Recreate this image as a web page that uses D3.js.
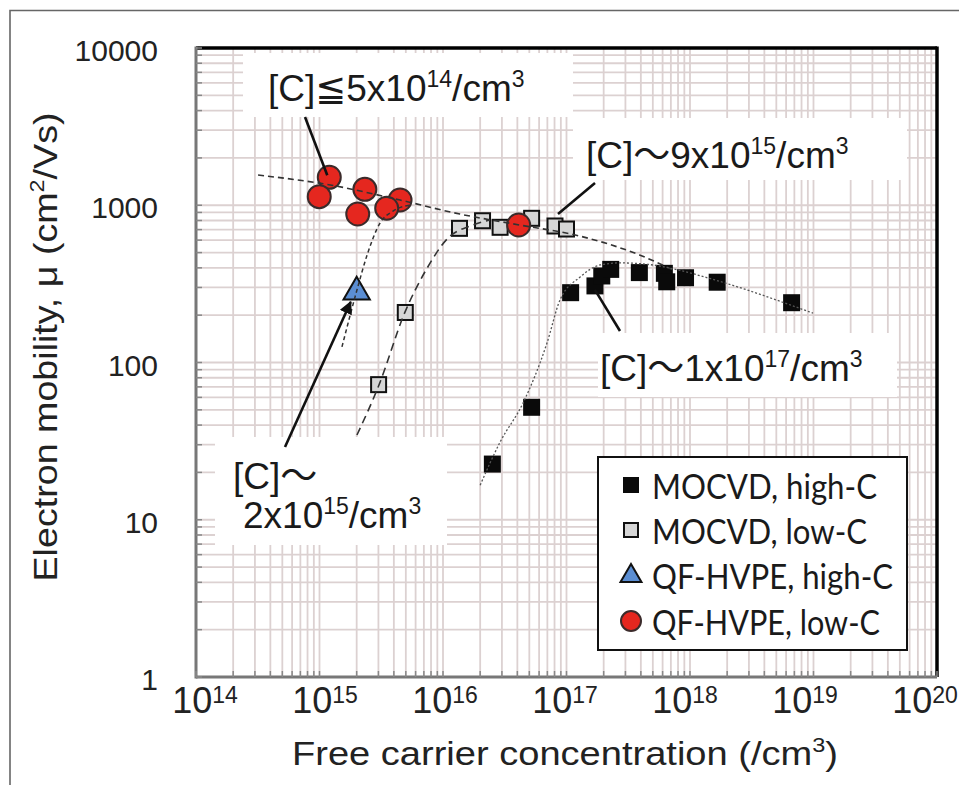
<!DOCTYPE html>
<html><head><meta charset="utf-8">
<script src="https://cdn.jsdelivr.net/npm/d3@7"></script>
<style>body{margin:0;background:#fff}</style>
</head><body>
<svg id="c" width="959" height="785"></svg>
<script>
// ---------- data ----------
const mocvdHighC_n  = [2.51e16, 5.22e16, 1.08e17, 1.70e17, 1.93e17, 2.28e17, 3.89e17, 6.2e17, 6.48e17, 9.2e17, 1.66e18, 6.65e18];
const mocvdHighC_mu = [22.6, 51.9, 278, 307, 355, 391, 373, 369, 326, 346, 324, 240];
const mocvdLowC_n   = [3.01e15, 4.95e15, 1.36e16, 2.09e16, 2.90e16, 5.22e16, 8.07e16, 1.0e17];
const mocvdLowC_mu  = [72.3, 208, 713, 797, 724, 826, 738, 706];
const qfHighC_n     = [2.0e15];
const qfHighC_mu    = [281];
const qfLowC_n      = [1.2e15, 9.95e14, 2.33e15, 2.04e15, 4.49e15, 3.5e15, 4.1e16];
const qfLowC_mu     = [1506, 1134, 1263, 880, 1080, 957, 749];

// fitted guide curves
const fitTop_n   = [3.18e14, 1.22e15, 4.49e15, 1.37e16, 4.2e16, 1.28e17, 3.9e17, 7.3e17];
const fitTop_mu  = [1556, 1346, 1079, 879, 748, 637, 483, 388];
const fitLowC_n  = [2.01e15, 3.03e15, 4.92e15, 7.28e15, 1.12e16, 1.66e16, 2.4e16];
const fitLowC_mu = [34.6, 71.9, 209, 387, 628, 738, 805];
const fitHighC_n = [2.0e16, 2.9e16, 4.45e16, 6.95e16, 8.86e16, 1.29e17, 1.87e17, 2.71e17, 5.0e17, 8.3e17, 1.53e18, 9.9e18];
const fitHighC_mu= [16.6, 31.2, 55.3, 133, 250, 350, 417, 430, 417, 385, 338, 206];
const fitQF_n    = [1.52e15, 2.01e15, 2.43e15, 3.09e15, 3.94e15, 5.4e15];
const fitQF_mu   = [125.6, 289, 483, 771, 919, 1003];

const xDecades = [14, 15, 16, 17, 18, 19, 20];
const yTicks = [1, 10, 100, 1000, 10000];
const legendLabels = ["MOCVD, high-C", "MOCVD, low-C", "QF-HVPE, high-C", "QF-HVPE, low-C"];

// ---------- layout ----------
const L = 196, T = 48, R = 937, B = 677;
const svg = d3.select('#c');
const x = d3.scaleLog().domain([1e14, 1e20]).range([L, R]);
const y = d3.scaleLog().domain([1, 1e4]).range([B, T]);
const xLab = d3.scaleLinear().domain([14, 20]).range([205, 925]);
const FONT = "'Liberation Sans', Arial, 'DejaVu Sans', 'Noto Sans CJK JP', sans-serif";

// outer frame
svg.append('path').attr('d', 'M10,785V10.5H959').attr('fill', 'none')
  .attr('stroke', '#666').attr('stroke-width', 1.6);

// grid
const gridC = '#dcd1d1';
const gx = x.ticks(), gy = y.ticks();
svg.append('g').selectAll('line').data(gx).join('line')
  .attr('x1', d => x(d)).attr('x2', d => x(d)).attr('y1', T).attr('y2', B)
  .attr('stroke', gridC).attr('stroke-width', 1.8);
svg.append('g').selectAll('line').data(gy).join('line')
  .attr('y1', d => y(d)).attr('y2', d => y(d)).attr('x1', L).attr('x2', R)
  .attr('stroke', gridC).attr('stroke-width', 1.8);

// white annotation backgrounds
const boxes = [[243, 53, 573, 117], [573, 118, 907, 180], [598, 333, 897, 397], [215, 437, 447, 545]];
svg.append('g').selectAll('rect').data(boxes).join('rect')
  .attr('x', d => d[0]).attr('y', d => d[1]).attr('width', d => d[2] - d[0]).attr('height', d => d[3] - d[1])
  .attr('fill', '#fff');

// markers
const zip = (a, b) => a.map((v, i) => [v, b[i]]);
const sq = 17;
svg.append('g').selectAll('rect').data(zip(mocvdHighC_n, mocvdHighC_mu)).join('rect')
  .attr('x', d => x(d[0]) - sq / 2).attr('y', d => y(d[1]) - sq / 2).attr('width', sq).attr('height', sq)
  .attr('fill', '#0a0a0a');
svg.append('g').selectAll('rect').data(zip(mocvdLowC_n, mocvdLowC_mu)).join('rect')
  .attr('x', d => x(d[0]) - sq / 2 + 1).attr('y', d => y(d[1]) - sq / 2 + 1).attr('width', sq - 2).attr('height', sq - 2)
  .attr('fill', '#d6d6d6').attr('stroke', '#111').attr('stroke-width', 2);
svg.append('g').selectAll('path').data(zip(qfHighC_n, qfHighC_mu)).join('path')
  .attr('d', d3.symbol(d3.symbolTriangle, 300))
  .attr('transform', d => `translate(${x(d[0])},${y(d[1])})`)
  .attr('fill', '#5b8ed3').attr('stroke', '#111').attr('stroke-width', 2);
svg.append('g').selectAll('circle').data(zip(qfLowC_n, qfLowC_mu)).join('circle')
  .attr('cx', d => x(d[0])).attr('cy', d => y(d[1])).attr('r', 11.5)
  .attr('fill', '#e5271f').attr('stroke', '#3b2b2b').attr('stroke-width', 2);

// fit curves
const line = d3.line().x(d => x(d[0])).y(d => y(d[1])).curve(d3.curveMonotoneX);
function fit(n, mu, dash, w, col) {
  svg.append('path').attr('d', line(zip(n, mu))).attr('fill', 'none')
    .attr('stroke', col).attr('stroke-width', w).attr('stroke-dasharray', dash);
}
fit(fitTop_n, fitTop_mu, '6,4', 1.6, '#333');
fit(fitLowC_n, fitLowC_mu, '8,5', 1.6, '#333');
fit(fitHighC_n, fitHighC_mu, '2,2', 1.3, '#555');
fit(fitQF_n, fitQF_mu, '4,3', 1.5, '#333');

// leader lines
const lead = svg.append('g').attr('stroke', '#111').attr('stroke-width', 2.6);
lead.append('line').attr('x1', 305).attr('y1', 117).attr('x2', x(qfLowC_n[0]) - 2).attr('y2', y(qfLowC_mu[0]) - 2);
lead.append('line').attr('x1', 595).attr('y1', 183).attr('x2', x(mocvdLowC_n[6]) + 3).attr('y2', y(mocvdLowC_mu[6]) - 12);
lead.append('line').attr('x1', 620).attr('y1', 331).attr('x2', x(mocvdHighC_n[3])).attr('y2', y(mocvdHighC_mu[3]) + 4);
svg.append('defs').append('marker').attr('id', 'ah').attr('viewBox', '0 0 10 10')
  .attr('refX', 9).attr('refY', 5).attr('markerWidth', 5).attr('markerHeight', 5).attr('orient', 'auto')
  .append('path').attr('d', 'M0,0L10,5L0,10z').attr('fill', '#111');
lead.append('line').attr('x1', 285).attr('y1', 447).attr('x2', x(qfHighC_n[0]) - 6).attr('y2', y(qfHighC_mu[0]) + 10)
  .attr('marker-end', 'url(#ah)');

// annotation texts
function ann(px, py, parts) {
  const t = svg.append('text').attr('x', px).attr('y', py).attr('font-family', FONT)
    .attr('font-size', 37).attr('fill', '#1a1a1a');
  let raised = false;
  parts.forEach(p => {
    if (typeof p === 'object') {
      t.append('tspan').attr('font-size', 23).attr('dy', -14).text(p.s);
      raised = true;
    } else {
      t.append('tspan').attr('dy', raised ? 14 : 0).text(p);
      raised = false;
    }
  });
}
ann(268, 101, ['[C]\u22665x10', {s: '14'}, '/cm', {s: '3'}]);
ann(586, 168, ['[C]\uFF5E9x10', {s: '15'}, '/cm', {s: '3'}]);
ann(600, 381, ['[C]\uFF5E1x10', {s: '17'}, '/cm', {s: '3'}]);
ann(233, 489, ['[C]\uFF5E']);
ann(243, 528, ['2x10', {s: '15'}, '/cm', {s: '3'}]);

// legend
svg.append('rect').attr('x', 598).attr('y', 457).attr('width', 309).attr('height', 193)
  .attr('fill', '#fff').attr('stroke', '#111').attr('stroke-width', 2);
const legY = [485, 530, 575, 621];
const legW = [225, 215, 241, 228];
svg.append('rect').attr('x', 623).attr('y', legY[0] - 8).attr('width', 16).attr('height', 16).attr('fill', '#0a0a0a');
svg.append('rect').attr('x', 624).attr('y', legY[1] - 7).attr('width', 14).attr('height', 14)
  .attr('fill', '#d6d6d6').attr('stroke', '#111').attr('stroke-width', 2);
svg.append('path').attr('d', d3.symbol(d3.symbolTriangle, 190)).attr('transform', `translate(631,${legY[2] + 1})`)
  .attr('fill', '#5b8ed3').attr('stroke', '#111').attr('stroke-width', 2);
svg.append('circle').attr('cx', 631).attr('cy', legY[3]).attr('r', 10)
  .attr('fill', '#e5271f').attr('stroke', '#3b2b2b').attr('stroke-width', 2);
svg.append('g').selectAll('text').data(legendLabels).join('text')
  .attr('x', 652).attr('y', (d, i) => legY[i] + 14)
  .attr('textLength', (d, i) => legW[i]).attr('lengthAdjust', 'spacingAndGlyphs')
  .attr('font-family', "Lato, 'Open Sans', sans-serif").attr('font-size', 35).attr('fill', '#1a1a1a')
  .text(d => d);

// axes frame
svg.append('line').attr('x1', L).attr('x2', R).attr('y1', T).attr('y2', T).attr('stroke', '#000').attr('stroke-width', 3.5);
svg.append('line').attr('x1', R).attr('x2', R).attr('y1', T - 1.5).attr('y2', B).attr('stroke', '#000').attr('stroke-width', 3.5);
svg.append('line').attr('x1', L).attr('x2', L).attr('y1', T - 1.5).attr('y2', B + 1.5).attr('stroke', '#777').attr('stroke-width', 3);
svg.append('line').attr('x1', L).attr('x2', R).attr('y1', B).attr('y2', B).attr('stroke', '#777').attr('stroke-width', 3);
svg.append('g').selectAll('line').data(gx).join('line')
  .attr('x1', d => x(d)).attr('x2', d => x(d)).attr('y1', B).attr('y2', B - 6).attr('stroke', '#888').attr('stroke-width', 1.5);
svg.append('g').selectAll('line').data(gy).join('line')
  .attr('y1', d => y(d)).attr('y2', d => y(d)).attr('x1', L).attr('x2', L + 6).attr('stroke', '#888').attr('stroke-width', 1.5);

// tick labels
svg.append('g').selectAll('text').data(yTicks).join('text')
  .attr('x', 158).attr('y', d => y(d) + 13).attr('text-anchor', 'end')
  .attr('font-family', FONT).attr('font-size', 30).attr('fill', '#222').text(d => d);
const xl = svg.append('g').selectAll('text').data(xDecades).join('text')
  .attr('x', d => xLab(d)).attr('y', 713).attr('text-anchor', 'middle')
  .attr('font-family', FONT).attr('font-size', 36).attr('fill', '#222');
xl.append('tspan').text('10');
xl.append('tspan').attr('font-size', 23).attr('dy', -10).text(d => d);

// axis titles
const xt = svg.append('text').attr('x', 565).attr('y', 765).attr('text-anchor', 'middle')
  .attr('font-family', FONT).attr('font-size', 34).attr('fill', '#222')
  .attr('textLength', 546).attr('lengthAdjust', 'spacingAndGlyphs');
xt.append('tspan').text('Free carrier concentration (/cm');
xt.append('tspan').attr('font-size', 21).attr('dy', -13).text('3');
xt.append('tspan').attr('dy', 13).text(')');
const yt = svg.append('text').attr('transform', 'translate(57,347) rotate(-90)').attr('text-anchor', 'middle')
  .attr('font-family', FONT).attr('font-size', 34).attr('fill', '#222')
  .attr('textLength', 469).attr('lengthAdjust', 'spacingAndGlyphs');
yt.append('tspan').text('Electron mobility, \u03bc (cm');
yt.append('tspan').attr('font-size', 21).attr('dy', -13).text('2');
yt.append('tspan').attr('dy', 13).text('/Vs)');
</script>
</body></html>
